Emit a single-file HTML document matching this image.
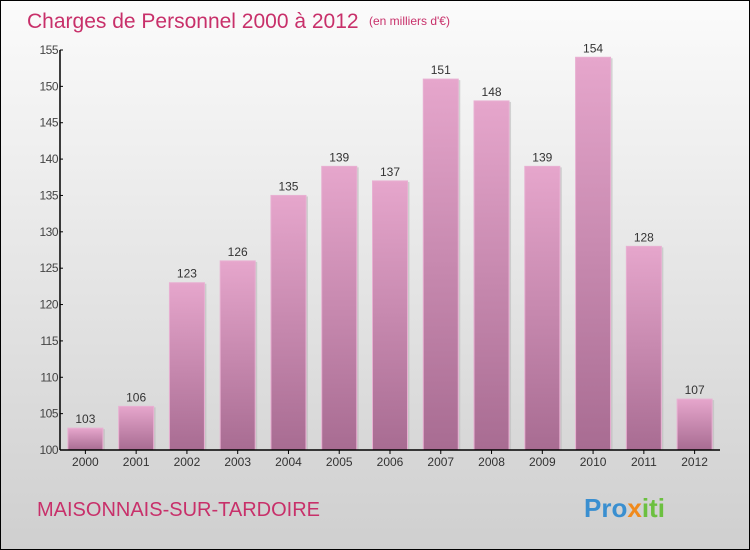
<!DOCTYPE html>
<html><head><meta charset="utf-8"><style>
html,body{margin:0;padding:0}
body{width:750px;height:550px;overflow:hidden;font-family:"Liberation Sans",sans-serif}
#wrap{position:relative;width:748px;height:548px;border:1px solid #000;background:linear-gradient(#fbfbfb,#cfcfcf)}
svg{position:absolute;left:0;top:0}
</style></head><body>
<div id="wrap">
<svg id="chart" width="748" height="548">
<defs>
<linearGradient id="bg" x1="0" y1="0" x2="0" y2="1"><stop offset="0" stop-color="#e6a6cc"/><stop offset="1" stop-color="#a86c92"/></linearGradient>
</defs>
<text x="26" y="27" font-size="21" fill="#c8306a">Charges de Personnel 2000 à 2012</text>
<text x="368" y="24" font-size="12" fill="#c8306a">(en milliers d'€)</text>
<text x="36" y="515" font-size="20" fill="#c8306a">MAISONNAIS-SUR-TARDOIRE</text>
<text x="583" y="516" font-size="26" font-weight="bold" fill="#3a8fd0">Pro<tspan fill="#f08a1c">x</tspan><tspan fill="#6cc040">iti</tspan></text>
<g id="bars"></g>
<g id="axes"></g>
</svg>
</div>
<script>
const categories=["2000","2001","2002","2003","2004","2005","2006","2007","2008","2009","2010","2011","2012"];
const values=[103,106,123,126,135,139,137,151,148,139,154,128,107];
const yTicks=[100,105,110,115,120,125,130,135,140,145,150,155];
const ns="http://www.w3.org/2000/svg";
const X0=59,X1=719,Y0=449,Y1=49,YMIN=100,YMAX=155;
const step=(X1-X0)/categories.length,bw=35;
const y=v=>Y0-(v-YMIN)/(YMAX-YMIN)*(Y0-Y1);
const xc=i=>X0+step*(i+0.5);
function mk(t,a,p){const e=document.createElementNS(ns,t);for(const k in a)e.setAttribute(k,a[k]);p.appendChild(e);return e;}
const bars=document.getElementById('bars'),axes=document.getElementById('axes');
values.forEach((v,i)=>{
 const sh=mk('rect',{x:xc(i)-bw/2+2,y:y(v)+1,width:bw,height:Y0-y(v)-1,fill:'#bbb',opacity:0.6},bars);
 
 
 const r=mk('rect',{x:xc(i)-bw/2,y:y(v),width:bw,height:Y0-y(v),fill:'url(#bg)',stroke:'#e8b0d2','stroke-width':1},bars);
 
 
 const t=mk('text',{x:xc(i),y:y(v)-5,'text-anchor':'middle','font-size':12,fill:'#333'},bars);
 t.textContent=v;
 
 
 const c=mk('text',{x:xc(i),y:Y0+16,'text-anchor':'middle','font-size':12,fill:'#333'},axes);
 c.textContent=categories[i];
 
 
 const tk=mk('line',{x1:xc(i),x2:xc(i),y1:Y0,y2:Y0+4,stroke:'#000'},axes);
 
 
});
yTicks.forEach(v=>{
 const l=mk('line',{x1:X0,x2:X0+3,y1:y(v),y2:y(v),stroke:'#000'},axes);
 
 
 const t=mk('text',{x:X0-2,y:y(v)+4,'text-anchor':'end','font-size':12,fill:'#444','letter-spacing':'-0.5'},axes);
 t.textContent=v;
 
 
});
const ya=mk('line',{x1:X0,x2:X0,y1:Y1,y2:Y0,stroke:'#000','stroke-width':1.5},axes);


const xa=mk('line',{x1:X0,x2:X1,y1:Y0,y2:Y0,stroke:'#000','stroke-width':1.5},axes);


</script>
</body></html>
